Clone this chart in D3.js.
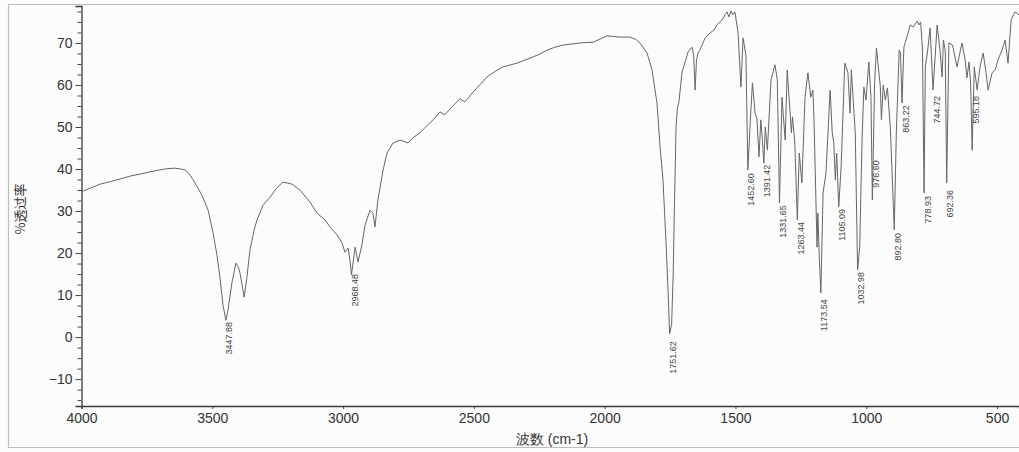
<!DOCTYPE html>
<html>
<head>
<meta charset="utf-8">
<script src="https://cdn.jsdelivr.net/npm/d3@7"></script>
<style>
  body { margin: 0; background: #fff; }
  svg { display: block; font-family: "Liberation Sans", Arial, sans-serif; }
</style>
</head>
<body>
<svg width="1019" height="452"></svg>
<script>
// spectrum (cm-1, %T)
var wavenumber = [4000, 3960, 3929, 3890, 3853, 3815, 3776, 3740, 3700, 3670, 3643, 3620, 3604, 3590, 3573, 3555,
  3536, 3516, 3497, 3482, 3471, 3459, 3448, 3440, 3425, 3410, 3400, 3394, 3386, 3378, 3368, 3356, 3340, 3329,
  3306, 3279, 3255, 3230, 3195, 3165, 3126, 3100, 3069, 3050, 3023, 3004, 2993, 2981, 2973, 2968, 2954, 2943,
  2928, 2916, 2897, 2886, 2878, 2867, 2847, 2832, 2809, 2782, 2752, 2730, 2706, 2680, 2656, 2630, 2611, 2584,
  2553, 2534, 2503, 2475, 2450, 2420, 2389, 2335, 2285, 2250, 2220, 2190, 2159, 2094, 2044, 2015, 1991, 1960,
  1941, 1903, 1880, 1865, 1838, 1819, 1800, 1788, 1777, 1765, 1757, 1751.6, 1744, 1738, 1733, 1727, 1722, 1716,
  1704, 1692, 1681, 1666, 1660, 1654, 1649, 1643, 1636, 1616, 1597, 1582, 1571, 1551, 1540, 1532, 1525, 1517,
  1510, 1502, 1490, 1479, 1471, 1460, 1452.6, 1441, 1435, 1425, 1418, 1410, 1403, 1397, 1391.4, 1386, 1378,
  1364, 1349, 1340, 1331.7, 1322, 1310, 1302, 1286, 1282, 1273, 1263.4, 1256, 1246, 1234, 1223, 1212, 1204,
  1200, 1188, 1185, 1179, 1173.5, 1165, 1154, 1138, 1130, 1124, 1118, 1113, 1105.1, 1096, 1082, 1070, 1062,
  1057, 1042, 1033, 1025, 1016, 1009, 1001, 990, 982, 976.6, 968, 961, 946, 942, 935, 927, 919, 908, 892.8,
  885, 874, 869, 863.2, 856, 840, 832, 820, 805, 798, 792, 785, 778.9, 774, 765, 756, 744.7, 729, 718, 710,
  705, 698, 692.4, 684, 670, 653, 634, 622, 615, 607, 601, 595.2, 587, 576, 565, 553, 542, 534, 519, 507, 496,
  481, 469, 458, 446, 431, 416];
var transmittance = [34.6, 35.6, 36.4, 37.0, 37.6, 38.3, 38.8, 39.3, 39.8, 40.1, 40.2, 40.0, 39.8, 39.0, 37.4, 35.5,
  33.3, 30.2, 24.8, 19.5, 14.3, 7.6, 4.0, 6.4, 12.9, 17.6, 16.6, 15.2, 12.4, 9.5, 14.0, 20.7, 25.5, 27.9,
  31.4, 33.3, 35.4, 36.9, 36.4, 35.0, 32.1, 29.5, 27.9, 26.2, 24.3, 22.4, 20.2, 21.2, 17.9, 14.8, 21.4, 17.9,
  21.9, 26.7, 30.2, 29.5, 26.2, 32.6, 39.8, 43.8, 46.2, 46.9, 46.2, 47.6, 48.6, 50.3, 51.7, 53.6, 52.9, 54.8,
  56.7, 56.0, 58.3, 60.2, 61.9, 63.2, 64.3, 65.2, 66.4, 67.3, 68.3, 69.0, 69.5, 70.0, 70.2, 71.0, 71.7, 71.5,
  71.4, 71.4, 70.8, 70.0, 67.6, 63.6, 55.7, 45.2, 37.4, 22.0, 10.0, 0.8, 3.0, 15.0, 32.0, 50.0, 54.5, 56.0,
  63.1, 65.5, 67.9, 69.0, 67.1, 58.8, 66.0, 67.6, 68.3, 71.2, 72.4, 73.1, 74.3, 75.5, 76.7, 77.4, 76.2, 77.6,
  76.7, 77.4, 72.4, 59.5, 71.2, 67.1, 39.8, 54.0, 60.5, 53.3, 52.1, 42.9, 51.7, 46.9, 41.4, 50.0, 44.5,
  61.2, 64.8, 61.2, 31.9, 57.1, 46.9, 63.6, 48.6, 52.4, 46.2, 27.9, 43.8, 36.7, 57.1, 62.9, 57.1, 58.8,
  52.4, 21.4, 29.5, 18.3, 10.5, 34.3, 39.0, 58.8, 48.6, 46.2, 37.4, 43.8, 31.0, 40.5, 65.2, 62.9, 53.3,
  63.6, 48.6, 16.0, 21.4, 46.9, 59.5, 56.4, 65.5, 57.1, 32.6, 60.5, 68.8, 59.5, 51.7, 60.0, 56.4, 59.3, 50.0, 25.5,
  48.6, 68.3, 67.6, 55.7, 69.0, 72.4, 74.3, 73.8, 75.2, 74.3, 75.0, 68.3, 34.3, 64.3, 68.3, 73.6, 58.8, 74.3, 68.3, 61.9,
  70.7, 68.3, 36.7, 70.0, 69.5, 64.3, 70.0, 66.0, 61.7, 65.5, 60.7, 44.5, 64.3, 58.8, 64.3, 67.6, 62.9, 58.8, 62.9, 63.6, 66.0,
  68.3, 70.7, 65.2, 75.5, 77.4, 76.7];

// peak annotations and the %T where each label starts
var peakLabels = ["3447.88", "2968.48", "1751.62", "1452.60", "1391.42", "1331.65", "1263.44", "1173.54",
  "1105.09", "1032.98", "976.60", "892.80", "863.22", "778.93", "744.72", "692.36", "595.18"];
var labelTop = [3.6, 15.0, -1.0, 39.0, 41.0, 31.4, 27.4, 9.0, 30.5, 15.5, 42.1, 24.8, 55.2, 33.6, 57.4, 35.0, 57.4];

var xTicks = [4000, 3500, 3000, 2500, 2000, 1500, 1000, 500];
var yTicks = [-10, 0, 10, 20, 30, 40, 50, 60, 70];
var yMinor = d3.range(-15, 78, 2.5);

var svg = d3.select("svg");

var x = d3.scaleLinear().domain([4000, 416]).range([81.5, 1019]);
var y = d3.scaleLinear().domain([-16.4, 78.8]).range([406, 6]);

svg.append("rect").attr("width", 1019).attr("height", 452).attr("fill", "#fcfcfc");

// outer frame of the printout
svg.append("path")
    .attr("d", "M1019,4.5H8.5V447.5H1019")
    .attr("fill", "none")
    .attr("stroke", "#bdbdbd")
    .attr("stroke-width", 1.2);

// axes
svg.append("g")
    .attr("transform", "translate(81.5,0)")
    .call(d3.axisLeft(y).tickValues(yTicks).tickSize(6).tickPadding(3).tickFormat(d3.format("d")));
svg.append("g")
    .attr("transform", "translate(81.5,0)")
    .call(d3.axisLeft(y).tickValues(yMinor.filter(v => v % 10 != 0)).tickSize(4).tickFormat(""))
    .select(".domain").remove();

svg.append("g")
    .attr("transform", "translate(0,406)")
    .call(d3.axisBottom(x).tickValues(xTicks).tickSize(3).tickPadding(4).tickFormat(d3.format("d")));

svg.selectAll(".domain").attr("stroke", "#3a3a3a").attr("stroke-width", 1.3);
svg.selectAll(".tick line").attr("stroke", "#444");
svg.selectAll(".tick text")
    .attr("font-size", 14)
    .attr("fill", "#333")
    .attr("font-family", "'Liberation Sans', Arial, sans-serif");

// axis titles
svg.append("text")
    .attr("x", 552).attr("y", 444)
    .attr("text-anchor", "middle")
    .attr("font-size", 14)
    .attr("fill", "#333")
    .text("波数 (cm-1)");

svg.append("text")
    .attr("transform", "translate(25,209) rotate(-90)")
    .attr("text-anchor", "middle")
    .attr("font-size", 13)
    .attr("fill", "#333")
    .attr("font-family", "'Noto Sans CJK SC', sans-serif")
    .text("%透过率");

// spectrum
var pts = wavenumber.map((w, i) => [w, transmittance[i]]);
var line = d3.line().x(d => x(d[0])).y(d => y(d[1]));

svg.append("path")
    .datum(pts)
    .attr("fill", "none")
    .attr("stroke", "#666")
    .attr("stroke-width", 1)
    .attr("stroke-linejoin", "round")
    .attr("d", line);

// peak labels, rotated, reading upwards
svg.append("g").selectAll("text")
    .data(peakLabels)
    .enter().append("text")
    .attr("transform", (d, i) => "translate(" + (x(+d) + 6.5) + "," + y(labelTop[i]) + ") rotate(-90)")
    .attr("text-anchor", "end")
    .attr("font-size", 9)
    .attr("fill", "#444")
    .text(d => d);
</script>
</body>
</html>
